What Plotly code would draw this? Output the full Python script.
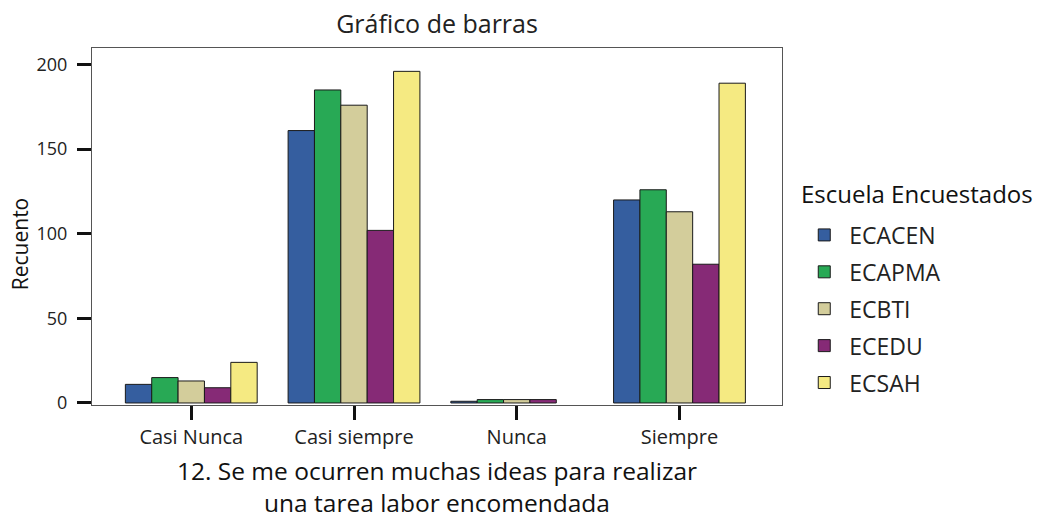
import plotly.graph_objects as go

categories = ["Casi Nunca", "Casi siempre", "Nunca", "Siempre"]
series_names = ["ECACEN", "ECAPMA", "ECBTI", "ECEDU", "ECSAH"]
ecacen = [11, 161, 1, 120]
ecapma = [15, 185, 2, 126]
ecbti = [13, 176, 2, 113]
ecedu = [9, 102, 2, 82]
ecsah = [24, 196, 0, 189]
colors = ["#355e9f", "#28a955", "#d3cd9b", "#862a76", "#f5ea82"]

values = [ecacen, ecapma, ecbti, ecedu, ecsah]
FONT = "'Open Sans', sans-serif"

fig = go.Figure()
for i, (name, vals, col) in enumerate(zip(series_names, values, colors)):
    fig.add_trace(go.Bar(
        x=categories, y=vals, name=name, legendgroup=name,
        marker=dict(color=col,
                    line=dict(color="#1a1a1a", width=[1 if v > 0 else 0 for v in vals])),
    ))

fig.update_layout(
    width=1046, height=518,
    margin=dict(l=92, r=264, t=48, b=113),
    paper_bgcolor="white", plot_bgcolor="white",
    font=dict(family=FONT, color="#222"),
    barmode="group", bargap=0.19, bargroupgap=0,
    title=dict(text="Gráfico de barras", x=0.4178, xanchor="center",
               y=0.953, yanchor="middle", font=dict(size=25, color="#222")),
    showlegend=True,
    legend=dict(
        font=dict(size=23), x=1.025, xanchor="left", y=0.269, yanchor="middle",
        tracegroupgap=4, itemwidth=40, bgcolor="rgba(0,0,0,0)",
    ),
    xaxis=dict(
        range=[-0.61, 3.63], showline=True, linecolor="#555", linewidth=1,
        mirror=True, ticks="outside", ticklen=14, tickwidth=2.5, tickcolor="#111",
        tickfont=dict(size=20, color="#222"), showgrid=False, automargin=False,
    ),
    yaxis=dict(
        range=[-1.2, 209.8], showline=True, linecolor="#555", linewidth=1,
        mirror=True, ticks="outside", ticklen=14, tickwidth=2.5, tickcolor="#111",
        tickvals=[0, 50, 100, 150, 200], tickfont=dict(size=18, color="#222"),
        showgrid=False, zeroline=False, ticklabelstandoff=6, automargin=False,
    ),
    annotations=[
        dict(text="12. Se me ocurren muchas ideas para realizar<br>una tarea labor encomendada",
             xref="paper", yref="paper", x=0.5, y=-0.229, xanchor="center",
             yanchor="middle", showarrow=False, font=dict(size=24.5, color="#111")),
        dict(text="Recuento", textangle=-90, xref="paper", yref="paper",
             x=-0.104, y=0.451, xanchor="center", yanchor="middle", showarrow=False,
             font=dict(size=21, color="#111")),
        dict(text="Escuela Encuestados", xref="paper", yref="paper",
             x=1.025, y=0.592, xanchor="left", yanchor="middle", showarrow=False,
             font=dict(size=24, color="#111")),
    ],
)

fig.write_html("out.html", config={"displayModeBar": False},
               post_script="document.body.style.margin='0';")
